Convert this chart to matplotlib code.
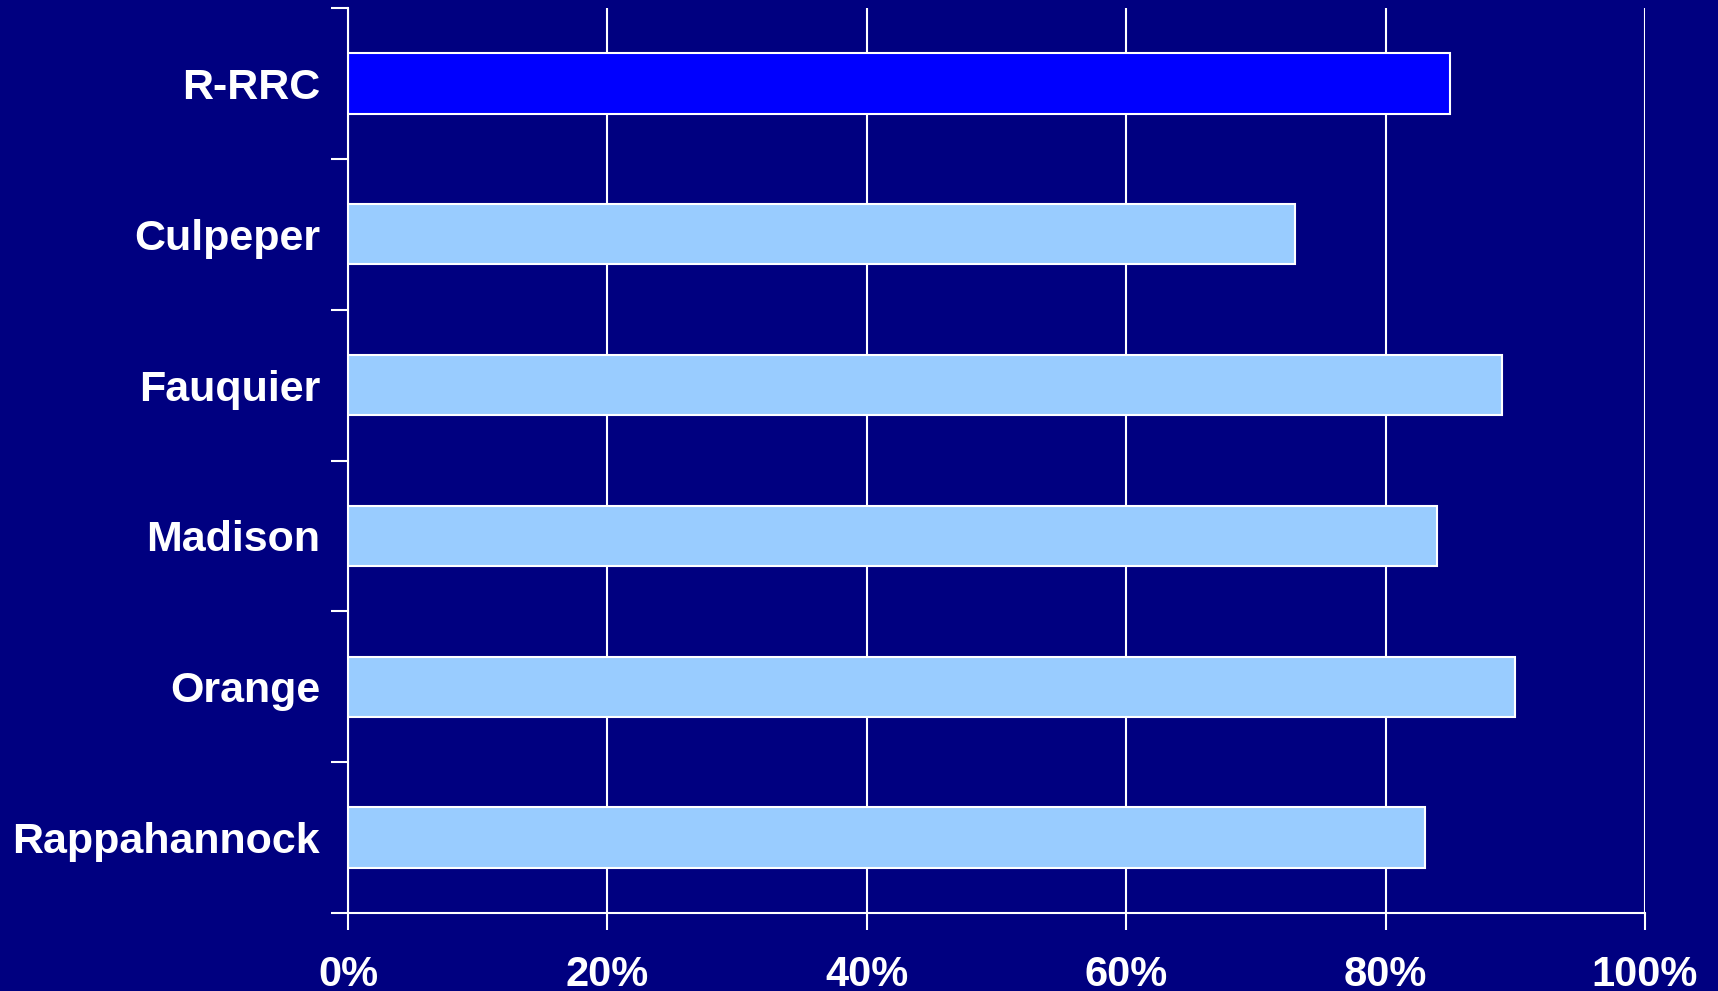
import matplotlib
matplotlib.use("Agg")
import matplotlib.pyplot as plt
from matplotlib.ticker import FixedLocator, PercentFormatter

# Datos del gráfico (de arriba hacia abajo)
categories = ["R-RRC", "Culpeper", "Fauquier", "Madison", "Orange", "Rappahannock"]
values = [85, 73, 89, 84, 90, 83]
bar_colors = ["#0000ff", "#99ccff", "#99ccff", "#99ccff", "#99ccff", "#99ccff"]
x_ticks = [0, 20, 40, 60, 80, 100]

navy = "#000080"

plt.rcParams["font.family"] = ["Liberation Sans", "DejaVu Sans"]

fig = plt.figure(figsize=(17.18, 9.91), dpi=100, facecolor=navy)
ax = fig.add_axes([348 / 1718, 1 - 913 / 991, (1645 - 348) / 1718, (913 - 8) / 991])
ax.set_facecolor(navy)

n = len(categories)
ypos = list(range(n))
ax.barh(ypos, values, height=0.4, color=bar_colors, edgecolor="white",
        linewidth=1.5, zorder=3)

ax.set_xlim(0, 100)
ax.set_ylim(n - 0.5, -0.5)

# Rejilla vertical blanca
ax.set_xticks(x_ticks)
ax.xaxis.set_major_formatter(PercentFormatter(decimals=0))
ax.grid(axis="x", color="white", linewidth=1.5, zorder=1)
ax.grid(axis="y", visible=False)

# Marcas del eje y en los límites de categoría
ax.set_yticks(ypos)
ax.set_yticklabels(categories)
ax.yaxis.set_minor_locator(FixedLocator([i - 0.5 for i in range(n + 1)]))
ax.tick_params(axis="y", which="major", length=0, pad=20,
               labelsize=31, labelcolor="white")
ax.tick_params(axis="y", which="minor", length=12, width=1.5, color="white")
ax.tick_params(axis="x", which="major", length=12, width=1.5, color="white",
               pad=18, labelsize=30, labelcolor="white")
for lab in ax.get_xticklabels() + ax.get_yticklabels():
    lab.set_fontweight("bold")

for side in ["top", "right"]:
    ax.spines[side].set_visible(False)
for side in ["left", "bottom"]:
    ax.spines[side].set_color("white")
    ax.spines[side].set_linewidth(1.5)
    ax.spines[side].set_zorder(4)

fig.savefig("out.png", dpi=100, facecolor=navy)
